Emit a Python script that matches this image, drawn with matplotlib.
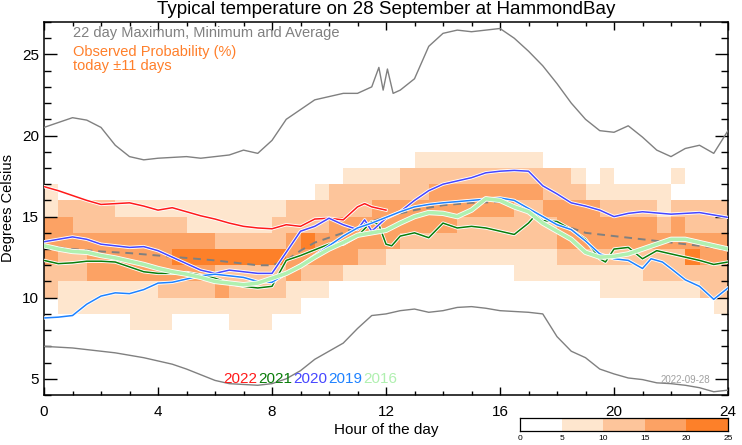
import matplotlib
matplotlib.use('Agg')
import numpy as np
import matplotlib.pyplot as plt
from matplotlib.colors import ListedColormap, BoundaryNorm
import matplotlib.patheffects as pe

plt.rcParams['font.family'] = ['Liberation Sans', 'DejaVu Sans']

# ---------------- data ----------------
title = "Typical temperature on 28 September at HammondBay"

# probability class per half-hour cell (0:<5%,1:5-10,2:10-15,3:15-20,4:20-25), rows by lower temperature
prob_row_temps = [8, 9, 10, 11, 12, 13, 14, 15, 16, 17, 18]
prob_row_8 = "0"*6 + "1"*3 + "0"*4 + "1"*3 + "0"*32
prob_row_9 = "0" + "1"*17 + "0"*29 + "1"
prob_row_10 = "2" + "1"*7 + "2"*4 + "3" + "2"*4 + "1"*3 + "0"*19 + "1"*7 + "2"*2
prob_row_11 = "2"*3 + "3"*9 + "2"*5 + "3" + "2"*3 + "1"*4 + "0"*8 + "1"*9 + "2"*6
prob_row_12 = "3" + "2"*2 + "3"*6 + "4"*8 + "3"*5 + "2"*2 + "1"*12 + "2"*9 + "4" + "3"*2
prob_row_13 = "3"*12 + "2"*5 + "3" + "4" + "3"*6 + "2"*11 + "3"*12
prob_row_14 = "3"*2 + "2"*8 + "1"*6 + "2"*4 + "3"*9 + "2"*7 + "3"*7 + "2" + "3" + "2"*3
prob_row_15 = "1" + "2"*4 + "1"*12 + "2"*6 + "3"*10 + "2"*2 + "3"*4 + "2"*4 + "1" + "2"*4
prob_row_16 = "1" + "0"*18 + "1" + "2"*7 + "3"*8 + "2"*3 + "1"*6 + "0"*4
prob_row_17 = "0"*21 + "1"*4 + "2"*12 + "1" + "0" + "1" + "0"*4 + "1" + "0"*3
prob_row_18 = "0"*26 + "1"*9 + "0"*13

max_hours = [0, 0.5, 1, 1.5, 2, 2.5, 3, 3.5, 4, 5, 5.5, 6, 6.5, 7, 7.5, 8, 8.5, 9, 9.5, 10,
             10.5, 11, 11.5, 11.75, 11.9, 12.05, 12.25, 12.5, 13, 13.5, 14, 14.5, 15, 15.5, 16,
             16.5, 17, 17.5, 18, 18.5, 19, 19.5, 20, 20.5, 21, 21.5, 22, 22.5, 23, 23.5, 24]
max_temp = [20.5, 20.8, 21.1, 20.95, 20.5, 19.4, 18.7, 18.5, 18.6, 18.7, 18.6, 18.7, 18.8, 19.1, 18.9, 19.7,
            21.0, 21.6, 22.2, 22.4, 22.6, 22.6, 23.0, 24.2, 22.8, 24.1, 22.6, 22.8, 23.5, 25.5,
            26.3, 26.5, 26.4, 26.5, 26.6, 26.0, 25.2, 24.3, 23.2, 22.0, 21.0, 20.3, 20.2, 20.6,
            19.9, 19.1, 18.7, 19.2, 19.4, 18.9, 20.3]

min_hours = [0, 0.5, 1, 1.5, 2, 2.5, 3, 3.5, 4, 4.5, 5, 5.5, 6, 6.5, 7, 7.5, 8, 8.5, 9, 9.5, 10,
             10.5, 11, 11.5, 12, 12.5, 13, 13.5, 14, 14.5, 15, 15.5, 16, 16.5, 17, 17.5, 18,
             18.5, 19, 19.5, 20, 20.5, 21, 21.5, 22, 22.5, 23, 23.5, 24]
min_temp = [7.0, 6.95, 6.9, 6.8, 6.7, 6.6, 6.45, 6.3, 6.1, 5.9, 5.6, 5.25, 4.9, 4.7, 4.65, 4.6,
            4.7, 5.0, 5.5, 6.2, 6.7, 7.2, 8.1, 8.9, 9.0, 9.2, 9.3, 9.1, 9.2, 9.4, 9.45, 9.35, 9.2,
            9.15, 9.1, 9.0, 7.6, 6.7, 6.3, 5.6, 5.3, 5.05, 4.95, 4.75, 4.7, 4.6, 4.45, 4.2, 4.3]

avg_hours = [0, 1, 2, 3, 4, 5, 6, 7, 7.5, 8, 8.5, 9, 9.5, 10, 10.5, 11, 11.5, 12, 13, 14, 15,
             16, 16.5, 17, 17.5, 18, 18.5, 19, 19.5, 20, 21, 22, 23, 24]
avg_temp = [13.2, 13.0, 12.85, 12.75, 12.6, 12.45, 12.3, 12.1, 12.0, 12.0, 12.3, 12.9, 13.4, 13.7,
            14.0, 14.4, 14.7, 15.0, 15.4, 15.7, 15.85, 15.9, 15.7, 15.4, 15.0, 14.6, 14.3, 14.0,
            13.9, 13.8, 13.6, 13.4, 13.2, 13.0]

y2022_hours = [0, 0.5, 1, 1.5, 2, 2.5, 3, 3.5, 4, 4.5, 5, 5.5, 6, 6.5, 7, 7.5, 8, 8.5, 9, 9.5,
               10, 10.5, 11, 11.25, 11.5, 12]
y2022_temp = [16.85, 16.6, 16.3, 16.0, 15.75, 15.8, 15.85, 15.65, 15.4, 15.55, 15.3, 15.05, 14.85,
              14.6, 14.4, 14.3, 14.25, 14.5, 14.4, 14.85, 14.9, 14.8, 15.6, 15.8, 15.6, 15.4]

y2021_hours = [0, 0.5, 1, 1.5, 2, 2.5, 3, 3.5, 4, 4.5, 5, 5.5, 6, 6.5, 7, 7.5, 8, 8.5, 9, 9.5,
               10, 10.5, 11, 11.5, 11.75, 12, 12.2, 12.5, 13, 13.5, 14, 14.5, 15, 15.5, 16,
               16.5, 17, 17.25, 17.5, 18, 18.5, 19, 19.5, 19.7, 20, 20.5, 21, 21.5, 22, 22.5,
               23, 23.5, 24]
y2021_temp = [12.3, 12.1, 12.15, 12.25, 12.25, 12.2, 11.9, 11.6, 11.5, 11.5, 11.55, 11.4, 11.2,
              10.9, 10.7, 10.6, 10.7, 12.3, 12.6, 12.95, 13.3, 13.3, 13.8, 14.7, 14.5, 13.3,
              13.2, 13.8, 14.0, 13.7, 14.6, 14.3, 14.4, 14.3, 14.1, 13.9, 14.6, 15.1, 14.75,
              14.7, 14.2, 13.6, 12.4, 12.2, 13.0, 13.1, 12.4, 12.9, 12.7, 12.5, 12.3, 12.05, 12.2]

y2020_hours = [0, 0.5, 1, 1.5, 2, 2.5, 3, 3.5, 4, 4.5, 5, 5.5, 6, 6.5, 7, 7.5, 8, 8.5, 9, 9.5,
               10, 10.5, 11, 11.25, 11.5, 12, 12.5, 13, 13.5, 14, 14.5, 15, 15.5, 16, 16.5, 17,
               17.5, 18, 18.5, 19, 19.5, 20, 20.5, 21, 22, 23, 24]
y2020_temp = [13.45, 13.6, 13.75, 13.6, 13.3, 13.2, 13.1, 13.15, 12.9, 12.5, 12.1, 11.7, 11.5,
              11.7, 11.6, 11.5, 11.5, 12.8, 14.1, 14.4, 14.9, 14.5, 14.2, 14.8, 14.1, 14.9,
              15.3, 16.0, 16.6, 17.0, 17.2, 17.4, 17.7, 17.8, 17.85, 17.8, 16.9, 16.4, 15.85,
              15.65, 15.4, 15.0, 15.2, 15.3, 15.15, 15.25, 14.95]

y2019_hours = [0, 0.5, 1, 1.5, 2, 2.5, 3, 3.5, 4, 4.5, 5, 5.5, 6, 6.5, 7, 7.5, 8, 8.5, 9, 9.5,
               10, 10.5, 11, 11.5, 12, 12.5, 13, 13.5, 14, 15, 16, 16.5, 17, 17.5, 18, 18.5, 19,
               19.5, 20, 20.5, 21, 21.3, 21.7, 22, 22.5, 23, 23.5, 24]
y2019_temp = [8.75, 8.8, 8.9, 9.6, 10.1, 10.3, 10.25, 10.5, 10.9, 10.95, 11.15, 11.35, 11.45,
              11.35, 11.25, 11.0, 10.95, 11.5, 12.0, 12.6, 13.2, 13.8, 14.3, 14.6, 14.95, 15.3,
              15.6, 15.75, 15.85, 16.0, 16.15, 16.0, 15.5, 15.0, 14.5, 14.2, 13.5, 12.7, 12.4,
              12.3, 11.8, 12.4, 12.2, 11.8, 11.1, 10.7, 9.9, 10.6]

y2016_hours = [0, 0.5, 1, 1.5, 2, 2.5, 3, 3.5, 4, 4.5, 5, 5.5, 6, 6.5, 7, 7.5, 8, 8.5, 9, 9.5,
               10, 10.5, 11, 11.5, 12, 12.5, 13, 13.5, 14, 14.5, 15, 15.5, 16, 16.5, 17, 17.5,
               18, 18.5, 19, 19.5, 20, 20.5, 21, 21.5, 22, 22.5, 23, 23.5, 24]
y2016_temp = [13.2, 13.0, 12.85, 12.8, 12.6, 12.45, 12.25, 12.05, 11.8, 11.6, 11.45, 11.25, 11.0,
              10.9, 10.8, 10.9, 11.2, 11.5, 11.95, 12.5, 13.0, 13.4, 13.85, 14.0, 14.15, 14.6,
              15.0, 15.25, 15.2, 15.0, 15.4, 16.1, 16.0, 15.6, 15.3, 14.6, 14.1, 13.6, 12.8,
              12.5, 12.55, 12.7, 13.0, 13.3, 13.6, 13.6, 13.4, 13.2, 13.0]

year_labels = ["2022", "2021", "2020", "2019", "2016"]
year_colors = ["#ff1a1a", "#0a7d0a", "#4646ff", "#1e82ff", "#b0f0b0"]

prob_bounds = [0, 5, 10, 15, 20, 25]
prob_colors = ["#ffffff", "#fee6ce", "#fdc59b", "#fca264", "#fd8029"]

# ---------------- figure ----------------
W, H = 742, 445
fig = plt.figure(figsize=(W / 100, H / 100), dpi=100)
ax = fig.add_axes([44 / W, 1 - 395 / H, 684 / W, 373 / H])

rows = [prob_row_8, prob_row_9, prob_row_10, prob_row_11, prob_row_12, prob_row_13,
        prob_row_14, prob_row_15, prob_row_16, prob_row_17, prob_row_18]
Z = np.array([[int(c) * 5 + 2.5 for c in r[:48]] for r in rows])
xe = np.arange(0, 24.01, 0.5)
ye = np.array(prob_row_temps + [prob_row_temps[-1] + 1])
cmap = ListedColormap(prob_colors)
norm = BoundaryNorm(prob_bounds, cmap.N)
ax.pcolormesh(xe, ye, Z, cmap=cmap, norm=norm, shading='flat', antialiased=False,
              edgecolors='none', zorder=1)

ax.plot(max_hours, max_temp, color='#808080', lw=1.0, zorder=3)
ax.plot(min_hours, min_temp, color='#808080', lw=1.0, zorder=3)
ax.plot(avg_hours, avg_temp, color='#808080', lw=1.4, ls=(0, (4, 3)), zorder=3)

halo = [pe.Stroke(linewidth=2.4, foreground='white'), pe.Normal()]
halo_thick = [pe.Stroke(linewidth=3.8, foreground='white'), pe.Normal()]
series = [(y2022_hours, y2022_temp), (y2021_hours, y2021_temp), (y2020_hours, y2020_temp),
          (y2019_hours, y2019_temp)]
for (hh, tt), col in zip(series, year_colors[:4]):
    ax.plot(hh, tt, color=col, lw=1.1, zorder=4, path_effects=halo)
ax.plot(y2016_hours, y2016_temp, color=year_colors[4], lw=2.6, zorder=5, path_effects=halo_thick)

ax.set_xlim(0, 24)
ax.set_ylim(4, 27)
ax.set_xticks(np.arange(0, 25, 4))
ax.set_xticks(np.arange(0, 25, 1), minor=True)
ax.set_yticks([5, 10, 15, 20, 25])
ax.set_yticks(np.arange(4, 28, 1), minor=True)
ax.tick_params(axis='x', which='major', direction='in', length=5.5, width=1, top=True, pad=7, labelsize=11)
ax.tick_params(axis='x', which='minor', direction='in', length=3, width=1, top=True)
ax.tick_params(axis='y', which='major', direction='in', length=9.5, width=1, right=True, pad=3.5, labelsize=11)
ax.tick_params(axis='y', which='minor', direction='in', length=5, width=1, right=True)
for s in ax.spines.values():
    s.set_linewidth(1.1)
ax.set_xlabel("Hour of the day", fontsize=11, labelpad=3)
ax.set_ylabel("Degrees Celsius", fontsize=10.5)
ax.yaxis.set_label_coords(-0.043, 0.5)

fig.text(386 / W, 1 - 10 / H, title, ha='center', va='center', fontsize=13.5)
fig.text(73 / W, 1 - 33 / H, "22 day Maximum, Minimum and Average", color='#808080',
         fontsize=10.5, ha='left', va='center')
fig.text(73 / W, 1 - 59 / H, "Observed Probability (%)\ntoday \u00b111 days", color='#ff7f2a',
         fontsize=10.5, ha='left', va='center', linespacing=0.95)
fig.text(710 / W, 1 - 380 / H, "2022-09-28", color='#a0a0a0', fontsize=7, ha='right', va='center')

year_x = [223, 258, 293, 328, 363]
for lab, col, xp in zip(year_labels, year_colors, year_x):
    fig.text(xp / W, 1 - 379 / H, lab, color=col, fontsize=11, ha='left', va='center')

# colour bar
cax = fig.add_axes([520 / W, 1 - 431 / H, 208 / W, 13 / H])
cb_vals = np.array([[2.5, 7.5, 12.5, 17.5, 22.5]])
cax.pcolormesh(prob_bounds, [0, 1], cb_vals, cmap=cmap, norm=norm, shading='flat')
cax.set_xlim(0, 25)
cax.set_ylim(0, 1)
cax.set_yticks([])
cax.set_xticks(prob_bounds)
cax.tick_params(axis='x', length=0, labelsize=6, pad=3)
for s in cax.spines.values():
    s.set_linewidth(0.9)

fig.savefig("out.png", dpi=100)
